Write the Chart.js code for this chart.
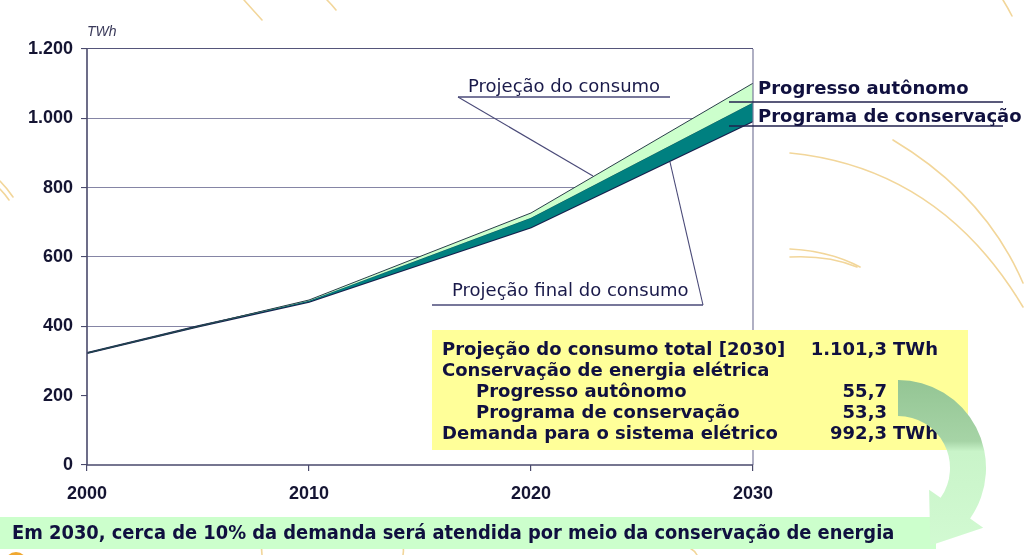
<!DOCTYPE html>
<html><head><meta charset="utf-8">
<script src="https://cdn.jsdelivr.net/npm/chart.js@4.4.1/dist/chart.umd.min.js"></script>
<style>
html,body{margin:0;padding:0;background:#fff;}
#wrap{position:relative;width:1024px;height:555px;overflow:hidden;background:#fff;}
svg{position:absolute;left:0;top:0;}
#bg{z-index:0}
#c{position:absolute;left:0;top:0;z-index:1}
#lines{z-index:2}
#arrow{z-index:5}
.t{position:absolute;white-space:nowrap;z-index:4;color:#1a1a4a;font-family:"DejaVu Sans",Verdana,sans-serif;font-size:18px;line-height:18px;}
.b{font-weight:bold;color:#10103f;}
#box{position:absolute;left:432px;top:330px;width:536px;height:120px;background:#ffff99;z-index:3}
#banner{position:absolute;left:0;top:517px;width:936px;height:32px;background:#ccffcc;z-index:3}
#twh{position:absolute;left:87px;top:23px;font:italic 14px "Liberation Sans",Arial,sans-serif;color:#3a3a5a;line-height:16px;z-index:4}
</style></head>
<body>
<div id="wrap">
<svg id="bg" width="1024" height="555">
  <g fill="none" stroke="#f2d69a" stroke-width="1.6" stroke-linecap="round">
    <path d="M790,153 Q940,168 1023,307"/>
    <path d="M893,140 Q985,195 1023,283"/>
    <path d="M790,249 Q830,251 860,267"/>
    <path d="M790,257 Q828,255 857,267"/>
    <path d="M244,0 Q253,10 262,20"/>
    <path d="M327,0 Q332,5 336,10"/>
    <path d="M0,181 Q7,188 13,197"/>
    <path d="M0,189 Q5,194 9,200"/>
    <path d="M1003,0 Q1008,8 1012,16"/>
    <path d="M255,530 Q262,543 262,555"/>
    <path d="M398,532 Q405,544 403,555"/>
    <path d="M690,548 Q695,551 697,555"/>
  </g>
  <circle cx="16" cy="563" r="11" fill="#f0a830"/>
</svg>
<canvas id="c" width="1024" height="555"></canvas>
<svg id="lines" width="1024" height="555"></svg>
<div id="twh">TWh</div>
<div id="box"></div>
<div id="banner"></div>
<svg id="arrow" width="1024" height="555">
  <defs>
    <linearGradient id="ag" x1="0" y1="380" x2="0" y2="550" gradientUnits="userSpaceOnUse">
      <stop offset="0" stop-color="#94c594"/>
      <stop offset="0.36" stop-color="#a6d4a6"/>
      <stop offset="0.42" stop-color="#c9f4c9"/>
      <stop offset="1" stop-color="#d2fad2"/>
    </linearGradient>
  </defs>
  <path id="arrowPath" fill="url(#ag)" d=""/>
</svg>
</div>
<script>
// ---- data ----
const years = [2000, 2005, 2010, 2020, 2030];
const projecaoConsumo = [323, 400, 476, 727, 1101.3];
const aposProgressoAutonomo = [323, 400, 474, 713, 1045.6];
const projecaoFinal = [323, 400, 471, 686, 992.3];
const yTicks = [0, 200, 400, 600, 800, 1000, 1200];
const xTicks = [2000, 2010, 2020, 2030];
const unitLabel = 'TWh';
const boxLabels = ['Projeção do consumo total [2030]', 'Conservação de energia elétrica', 'Progresso autônomo', 'Programa de conservação', 'Demanda para o sistema elétrico'];
const boxIndent = [false, false, true, true, false];
const boxValues = ['1.101,3', '', '55,7', '53,3', '992,3'];
const boxUnits = ['TWh', '', '', '', 'TWh'];
const bannerText = 'Em 2030, cerca de 10% da demanda será atendida por meio da conservação de energia';

function fmt(v){ return v >= 1000 ? Math.floor(v/1000) + '.' + String(v % 1000).padStart(3,'0') : String(v); }
function pts(arr){ return years.map((y,i)=>({x:y, y:arr[i]})); }

const axisPlugin = {
  id:'axes',
  afterDatasetsDraw(chart){
    const {ctx, chartArea:a} = chart;
    ctx.save();
    ctx.strokeStyle = '#7b7b9c'; ctx.lineWidth = 1.2;
    ctx.beginPath(); ctx.moveTo(a.right, a.top); ctx.lineTo(a.right, a.bottom); ctx.stroke();
    ctx.strokeStyle = '#4a4a6c'; ctx.lineWidth = 1.6;
    ctx.beginPath(); ctx.moveTo(a.left, a.top); ctx.lineTo(a.left, a.bottom); ctx.lineTo(a.right, a.bottom); ctx.stroke();
    ctx.restore();
  }
};

const tickFont = {family:'"Liberation Sans", Arial, sans-serif', size:18, weight:'bold'};
const chart = new Chart(document.getElementById('c'), {
  type:'line',
  data:{ datasets:[
    {label:'Projeção do consumo', data:pts(projecaoConsumo), borderColor:'#2a3f4a', borderWidth:1, backgroundColor:'#ccffcc', fill:1, pointRadius:0, tension:0},
    {label:'Progresso autônomo', data:pts(aposProgressoAutonomo), borderColor:'#0a5a5e', borderWidth:1, backgroundColor:'#008080', fill:2, pointRadius:0, tension:0},
    {label:'Projeção final do consumo', data:pts(projecaoFinal), borderColor:'#161f4c', borderWidth:2.2, backgroundColor:'#ffffff', fill:'origin', pointRadius:0, tension:0}
  ]},
  options:{
    responsive:false, animation:false, devicePixelRatio:1,
    layout:{padding:{left:0, top:49, right:271, bottom:50}},
    plugins:{legend:{display:false}, tooltip:{enabled:false}},
    scales:{
      x:{type:'linear', min:2000, max:2030,
        afterBuildTicks:s=>{ s.ticks = xTicks.map(v=>({value:v})); },
        afterFit:s=>{ s.height = 40; },
        ticks:{callback:v=>String(v), padding:12, color:'#141432', font:tickFont, maxRotation:0},
        grid:{drawOnChartArea:false, drawTicks:true, tickLength:6, tickColor:'#4a4a6c', lineWidth:1.2},
        border:{display:false}
      },
      y:{min:0, max:1200,
        afterBuildTicks:s=>{ s.ticks = yTicks.map(v=>({value:v})); },
        afterFit:s=>{ s.width = 87; },
        ticks:{callback:v=>fmt(v), padding:8, color:'#141432', font:tickFont},
        grid:{color:ctx=> ctx.tick && ctx.tick.value===1200 ? '#55557a' : '#8585a5', lineWidth:1.1, tickLength:6, tickColor:'#4a4a6c'},
        border:{display:false}
      }
    }
  },
  plugins:[axisPlugin]
});

// ---- text overlays ----
const wrap = document.getElementById('wrap');
function addText(txt, x, top, cls, align){
  const d = document.createElement('div');
  d.className = 't ' + (cls||'');
  d.textContent = txt;
  d.style.top = top + 'px';
  if(align==='right'){ d.style.left = (x-400)+'px'; d.style.width='400px'; d.style.textAlign='right'; }
  else d.style.left = x + 'px';
  wrap.appendChild(d);
  return d;
}
document.getElementById('twh').textContent = unitLabel;
addText('Projeção do consumo', 468, 77, '');
addText('Projeção final do consumo', 452, 281, '');
addText('Progresso autônomo', 758, 79, 'b');
addText('Programa de conservação', 758, 107, 'b');
boxLabels.forEach((l,i)=>{
  const top = 340 + i*21;
  addText(l, boxIndent[i] ? 476 : 442, top, 'b');
  if(boxValues[i]) addText(boxValues[i], 887, top, 'b', 'right');
  if(boxUnits[i]) addText(boxUnits[i], 893, top, 'b');
});
const bn = addText(bannerText, 12, 524, 'b');
bn.style.fontFamily = '"DejaVu Sans Condensed","DejaVu Sans",sans-serif';
bn.style.zIndex = 6;
const w = bn.getBoundingClientRect().width;
bn.style.fontSize = (18 * 883 / w).toFixed(2) + 'px';

// ---- leader lines ----
const svg = document.getElementById('lines');
function line(x1,y1,x2,y2,col,w){
  const l = document.createElementNS('http://www.w3.org/2000/svg','line');
  l.setAttribute('x1',x1);l.setAttribute('y1',y1);l.setAttribute('x2',x2);l.setAttribute('y2',y2);
  l.setAttribute('stroke',col);l.setAttribute('stroke-width',w);
  svg.appendChild(l);
}
line(458,97,670,97,'#4a4a78',1.3);
line(458,97,593,176,'#4a4a78',1.1);
line(432,305,703,305,'#4a4a78',1.3);
line(703,305,670,162,'#4a4a78',1.1);
line(729,102,1003,102,'#22224e',1.5);
line(729,126,1003,126,'#22224e',1.5);

// ---- curved arrow ----
(function(){
  const cx=898, cy=468, ro=88, ri=52, a=35*Math.PI/180;
  const P=(r,t)=>[cx+r*Math.cos(t), cy+r*Math.sin(t)];
  const o=P(ro,a), i=P(ri,a), bo=P(104,a), bi=P(38,a), m=P(71,a);
  const tip=[m[0]-45*Math.sin(a), m[1]+45*Math.cos(a)];
  const f=p=>p[0].toFixed(1)+','+p[1].toFixed(1);
  const d='M'+cx+','+(cy-ro)+' A'+ro+' '+ro+' 0 0 1 '+f(o)+' L'+f(bo)+' L'+f(tip)+' L'+f(bi)+' L'+f(i)+' A'+ri+' '+ri+' 0 0 0 '+cx+','+(cy-ri)+' Z';
  document.getElementById('arrowPath').setAttribute('d', d);
})();
</script>
</body></html>
